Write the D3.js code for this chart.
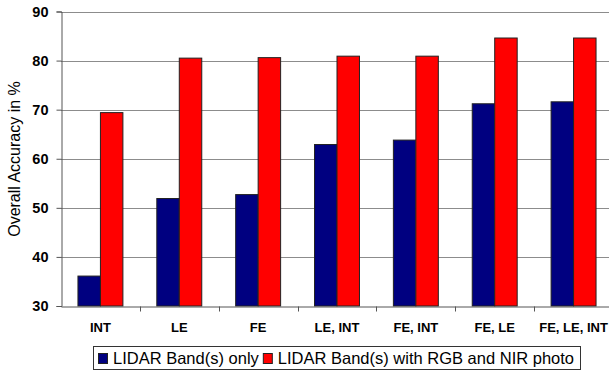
<!DOCTYPE html>
<html>
<head>
<meta charset="utf-8">
<script src="https://cdn.jsdelivr.net/npm/d3@7"></script>
<style>
  body { margin: 0; background: #fff; }
  svg { display: block; font-family: Arial, "Liberation Sans", sans-serif; }
</style>
</head>
<body>
<svg id="chart" width="609" height="371"></svg>
<script>
// chart data
let categories = ["INT", "LE", "FE", "LE, INT", "FE, INT", "FE, LE", "FE, LE, INT"];
let seriesNames = ["LIDAR Band(s) only", "LIDAR Band(s) with RGB and NIR photo"];
let lidarOnly = [36.1, 51.9, 52.7, 62.9, 63.8, 71.2, 71.6];
let lidarPhoto = [69.4, 80.5, 80.6, 80.9, 80.9, 84.6, 84.6];
let yTicks = [30, 40, 50, 60, 70, 80, 90];
let colors = ["#000080", "#ff0000"];

function createBarChart() {
    let svg = d3.select('#chart');

    let left = 61, right = 613, top = 11.5, bottom = 306;

    // x scales: groups and bars inside each group
    let x0 = d3.scaleBand()
        .domain(categories)
        .range([left, right]);
    let x1 = d3.scaleBand()
        .domain(seriesNames)
        .range([x0.bandwidth() * 0.215, x0.bandwidth() * 0.785]);

    // y scale
    let yScale = d3.scaleLinear()
        .domain([30, 90])
        .range([bottom, top]);

    // gridlines
    svg.append('g')
        .selectAll('line')
        .data(yTicks.slice(1))
        .enter()
        .append('line')
        .attr('x1', left)
        .attr('x2', 609)
        .attr('y1', d => Math.round(yScale(d)) + 0.5)
        .attr('y2', d => Math.round(yScale(d)) + 0.5)
        .attr('stroke', '#8c8c8c')
        .attr('stroke-width', 1);

    // bars
    let rows = categories.map((c, i) => ({cat: c, vals: [lidarOnly[i], lidarPhoto[i]]}));
    let groups = svg.append('g')
        .selectAll('g')
        .data(rows)
        .enter()
        .append('g')
        .attr('transform', d => `translate(${x0(d.cat)},0)`);

    groups.selectAll('rect')
        .data(d => d.vals.map((v, j) => ({name: seriesNames[j], v: v, j: j})))
        .enter()
        .append('rect')
        .attr('x', d => x1(d.name))
        .attr('y', d => yScale(d.v))
        .attr('width', x1.bandwidth())
        .attr('height', d => yScale(30) - yScale(d.v))
        .attr('fill', d => colors[d.j])
        .attr('stroke', '#222')
        .attr('stroke-width', 1);

    // y axis
    let yAxis = d3.axisLeft(yScale)
        .tickValues(yTicks)
        .tickSize(5)
        .tickPadding(8);
    let yAxisGroup = svg.append('g')
        .attr('transform', `translate(${left + 0.5},0)`)
        .call(yAxis);
    yAxisGroup.select('.domain').attr('stroke', '#555');
    yAxisGroup.selectAll('.tick line').attr('stroke', '#555');
    yAxisGroup.selectAll('text')
        .attr('font-size', '14.5px')
        .attr('font-weight', 'bold')
        .attr('font-family', 'Arial, "Liberation Sans", sans-serif')
        .attr('fill', '#000');

    // x axis: labels at band centres, ticks at band edges
    let xAxis = d3.axisBottom(x0)
        .tickSize(0)
        .tickPadding(16);
    let xAxisGroup = svg.append('g')
        .attr('transform', `translate(0,${Math.round(bottom) + 0.5})`)
        .call(xAxis);
    xAxisGroup.select('.domain').attr('stroke', '#555');
    xAxisGroup.selectAll('text')
        .attr('font-size', '13px')
        .attr('font-weight', 'bold')
        .attr('font-family', 'Arial, "Liberation Sans", sans-serif')
        .attr('fill', '#000');
    xAxisGroup.selectAll('.edge')
        .data(categories.slice(1))
        .enter()
        .append('line')
        .attr('class', 'edge')
        .attr('x1', d => Math.round(x0(d)) + 0.5)
        .attr('x2', d => Math.round(x0(d)) + 0.5)
        .attr('y1', 0)
        .attr('y2', 5)
        .attr('stroke', '#555');

    // y axis title
    svg.append('text')
        .attr('transform', `translate(20,159) rotate(-90)`)
        .attr('text-anchor', 'middle')
        .attr('font-size', '16px')
        .attr('fill', '#000')
        .text('Overall Accuracy in %');

    // legend
    let legend = svg.append('g');
    legend.append('rect')
        .attr('x', 93.5)
        .attr('y', 346.5)
        .attr('width', 487)
        .attr('height', 23)
        .attr('fill', '#fff')
        .attr('stroke', '#333');

    let lx = 98;
    seriesNames.forEach((name, j) => {
        legend.append('rect')
            .attr('x', lx + 0.5)
            .attr('y', 353.5)
            .attr('width', 9)
            .attr('height', 10)
            .attr('fill', colors[j])
            .attr('stroke', '#222');
        let t = legend.append('text')
            .attr('x', lx + 15)
            .attr('y', 364)
            .attr('font-size', '16.5px')
            .attr('fill', '#000')
            .text(name);
        lx += 15 + t.node().getComputedTextLength() + 4;
    });
}

window.onload = function() {
    createBarChart();
}
</script>
</body>
</html>
